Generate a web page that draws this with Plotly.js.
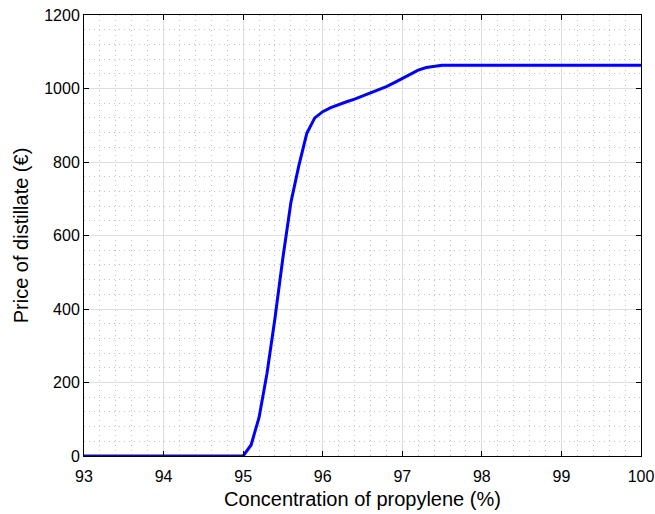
<!DOCTYPE html>
<html><head><meta charset="utf-8">
<script src="https://cdn.plot.ly/plotly-3.0.1.min.js"></script>
<style>html,body{margin:0;padding:0;background:#fff}#c{width:655px;height:514px}</style>
</head><body><div id="c"></div>
<script>
const concentration = [93, 94, 95.0, 95.1, 95.2, 95.3, 95.4, 95.5, 95.6, 95.7, 95.8, 95.9, 96.0, 96.1, 96.2, 96.3, 96.4, 96.5, 96.6, 96.7, 96.8, 96.9, 97.0, 97.1, 97.2, 97.3, 97.4, 97.5, 98, 99, 100];
const price = [0, 0, 0, 30, 105, 225, 375, 540, 690, 790, 878, 920, 937, 948, 957, 964, 971, 979, 987, 995, 1005, 1016, 1027, 1039, 1050, 1057, 1061, 1063, 1063, 1063, 1063];
const xTicks = [93, 94, 95, 96, 97, 98, 99, 100];
const yTicks = [0, 200, 400, 600, 800, 1000, 1200];

const font = {family: 'Liberation Sans, Arial, sans-serif', color: '#000'};
const axisCommon = {
  showline: true, linecolor: '#000', linewidth: 1, mirror: 'ticks',
  ticks: 'inside', ticklen: 5, tickcolor: '#000', tickwidth: 1,
  showgrid: true, gridcolor: '#dedede', gridwidth: 1,
  zeroline: false, tickfont: Object.assign({size: 16}, font)
};
Plotly.newPlot('c', [{
  x: concentration, y: price, type: 'scatter', mode: 'lines',
  line: {color: '#0000ff', width: 3}
}], {
  width: 655, height: 514,
  margin: {l: 84, r: 14, t: 15, b: 58},
  paper_bgcolor: '#fff', plot_bgcolor: '#fff',
  showlegend: false,
  xaxis: Object.assign({}, axisCommon, {
    range: [93, 100], tickvals: xTicks, ticktext: xTicks.map(String),
    ticklabelstandoff: 6,
    minor: {dtick: 0.2, tick0: 93, showgrid: true, griddash: '1px,4px', gridcolor: '#c4c4c4', gridwidth: 1, ticks: ''},
    title: {text: 'Concentration of propylene (%)', font: Object.assign({size: 20}, font), standoff: 7}
  }),
  yaxis: Object.assign({}, axisCommon, {
    range: [0, 1200], tickvals: yTicks, ticktext: yTicks.map(String),
    minor: {dtick: 40, tick0: 0, showgrid: true, griddash: '1px,4px', gridcolor: '#c4c4c4', gridwidth: 1, ticks: ''},
    title: {text: 'Price of distillate (€)', font: Object.assign({size: 20}, font), standoff: 10}
  })
}, {displayModeBar: false, staticPlot: true});
</script></body></html>
